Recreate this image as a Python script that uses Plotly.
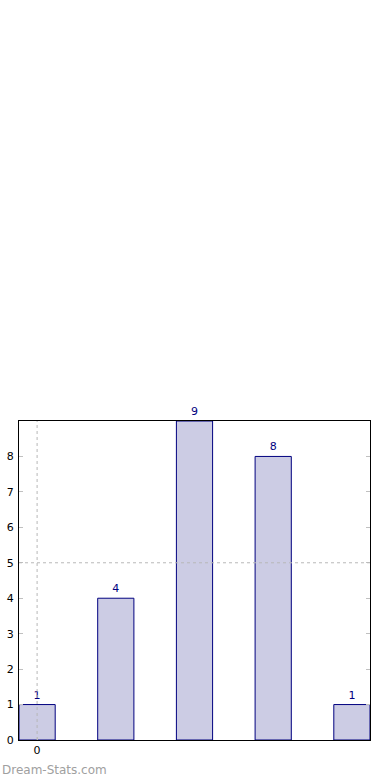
import plotly.graph_objects as go

categories = [0, 1, 2, 3, 4]
values = [1, 4, 9, 8, 1]
x_tick_vals = [0]
x_tick_text = ["0"]
y_tick_vals = [0, 1, 2, 3, 4, 5, 6, 7, 8]

fig = go.Figure()
fig.add_trace(go.Bar(
    x=categories, y=values, width=0.46,
    marker=dict(color="#CCCCE4", line=dict(color="#00007F", width=1)),
    text=[str(v) for v in values], textposition="outside",
    textfont=dict(color="#00007F", size=11, family="DejaVu Sans"),
    cliponaxis=False,
))

# dotted reference lines at x=0 and y=5
fig.add_shape(type="line", xref="x", yref="y", x0=0, x1=0, y0=0, y1=9,
              line=dict(color="#B8B8B8", width=1, dash="dot"), layer="above")
fig.add_shape(type="line", xref="x", yref="y", x0=-0.23, x1=4.23, y0=5, y1=5,
              line=dict(color="#B8B8B8", width=1, dash="dot"), layer="above")

fig.add_annotation(text="Dream-Stats.com", xref="paper", yref="paper",
                   x=-0.054, y=-0.094, xanchor="left", yanchor="middle",
                   showarrow=False,
                   font=dict(family="DejaVu Sans", size=12, color="#A0A0A0"))

fig.update_layout(
    width=390, height=780,
    margin=dict(l=19, r=20, t=421, b=40, autoexpand=False),
    paper_bgcolor="white", plot_bgcolor="white",
    showlegend=False,
    font=dict(family="DejaVu Sans", size=11, color="black"),
    xaxis=dict(range=[-0.23, 4.23], tickvals=x_tick_vals, ticktext=x_tick_text,
               showgrid=False, zeroline=False, showline=True, linecolor="black",
               linewidth=1, mirror=True, ticks="inside", ticklen=3,
               tickcolor="#C0C0C0", automargin=False),
    yaxis=dict(range=[0, 9], tickvals=y_tick_vals,
               showgrid=False, zeroline=False, showline=True, linecolor="black",
               linewidth=1, mirror="allticks", ticks="inside", ticklen=4,
               tickcolor="#C0C0C0", ticklabelstandoff=2, automargin=False),
)

fig.write_html("out.html", config={"displayModeBar": False},
               post_script="document.body.style.margin='0';document.body.style.padding='0';")
